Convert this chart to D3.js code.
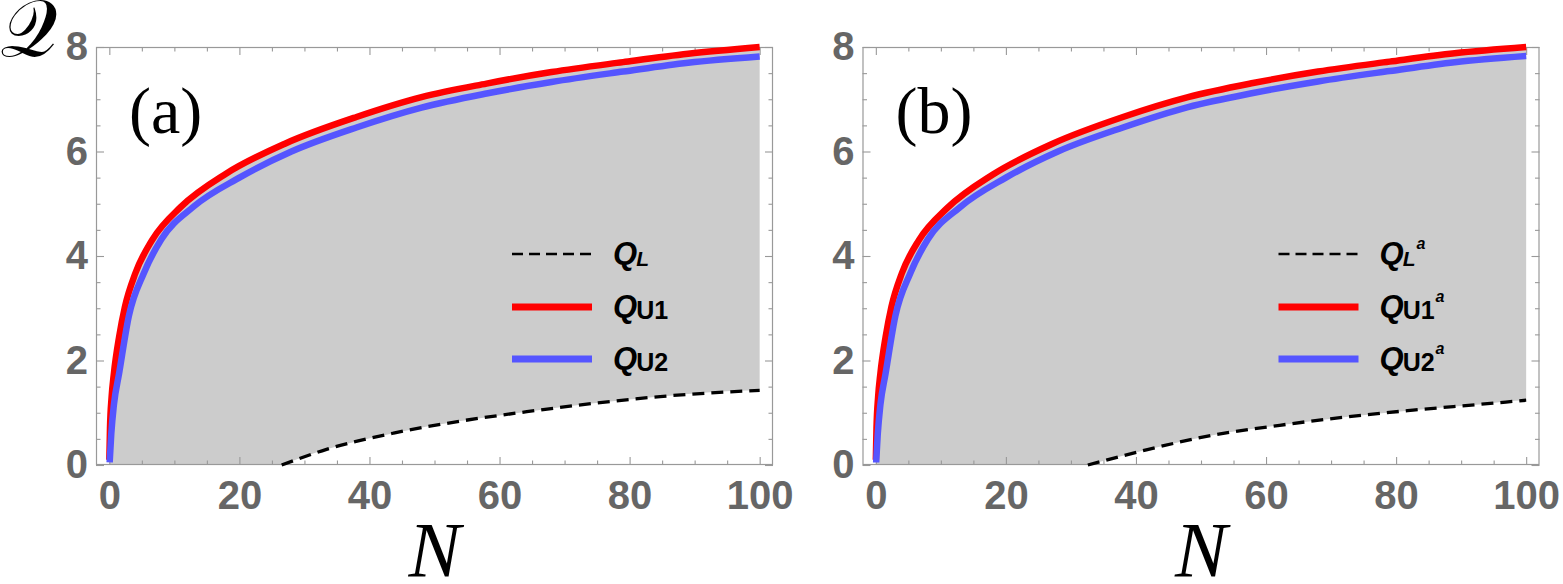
<!DOCTYPE html>
<html>
<head>
<meta charset="utf-8">
<script src="https://cdn.jsdelivr.net/npm/d3@7"></script>
<style>
  body { margin: 0; background: #fff; }
</style>
</head>
<body>
<div class="chart"></div>
<script>
// panel (a) values
var nU1a = [0, 0.1, 0.35, 0.7, 1.5, 2.4, 4, 6.6, 11, 18, 27, 38, 48, 58, 68, 79, 89, 100];
var qU1a = [0.1, 0.7, 1.3, 1.75, 2.45, 3.03, 3.67, 4.31, 4.94, 5.58, 6.15, 6.66, 7.04, 7.30, 7.52, 7.71, 7.87, 8.0];
var nU2a = [0.05, 0.3, 0.7, 1.5, 3, 5.3, 8, 12.9, 20, 28, 38, 48, 58, 68, 79, 89, 100];
var qU2a = [0.05, 0.6, 1.15, 1.75, 2.85, 3.67, 4.32, 4.94, 5.5, 6.0, 6.46, 6.84, 7.11, 7.33, 7.53, 7.70, 7.82];
var nLa = [26.5, 33.4, 43.7, 54, 64.2, 74.5, 84.7, 100];
var qLa = [0, 0.30, 0.61, 0.84, 1.02, 1.18, 1.31, 1.43];

// panel (b) values
var nU1b = [0, 0.1, 0.35, 0.7, 1.5, 2.4, 4, 6.6, 11, 18, 27, 38, 48, 58, 68, 79, 89, 100];
var qU1b = [0.1, 0.7, 1.3, 1.75, 2.45, 3.03, 3.67, 4.3, 4.92, 5.56, 6.14, 6.66, 7.04, 7.31, 7.53, 7.72, 7.88, 8.0];
var nU2b = [0.05, 0.3, 0.7, 1.5, 3, 5.3, 8, 12.9, 20, 28, 38, 48, 58, 68, 79, 89, 100];
var qU2b = [0.05, 0.6, 1.15, 1.75, 2.85, 3.67, 4.32, 4.93, 5.5, 6.0, 6.46, 6.85, 7.12, 7.34, 7.54, 7.71, 7.83];
var nLb = [32.6, 41.6, 51.8, 62.1, 72.3, 82.6, 92.8, 100];
var qLb = [0, 0.29, 0.57, 0.76, 0.92, 1.05, 1.16, 1.24];

var xTicks = [0, 20, 40, 60, 80, 100];
var yTicks = [0, 2, 4, 6, 8];

var w = 1563, h = 584;
var pw = 677, plotTop = 47, plotBottom = 465;

var svg = d3.select("div.chart")
            .append("svg")
            .attr("width", w)
            .attr("height", h);

function zip(xs, ys) {
    return xs.map(function(d, i) { return [d, ys[i]]; });
}

function panel(left, tag, U1, U2, L, sup) {
    var x = d3.scaleLinear().domain([-2.05, 102.05]).range([left, left + pw]);
    var y = d3.scaleLinear().domain([0, 8]).range([plotBottom, plotTop]);
    var g = svg.append("g");

    var line = d3.line()
        .x(function(d) { return x(d[0]); })
        .y(function(d) { return y(d[1]); })
        .curve(d3.curveMonotoneX);
    var area = d3.area()
        .x(function(d) { return x(d[0]); })
        .y0(y(0))
        .y1(function(d) { return y(d[1]); })
        .curve(d3.curveMonotoneX);

    // shaded band under the upper bound
    g.append("path")
        .datum(U1)
        .attr("d", area)
        .attr("fill", "#cccccc");
    // clear the region below the lower bound
    var areaL = d3.area()
        .x(function(d) { return x(d[0]); })
        .y0(y(0) + 1)
        .y1(function(d) { return y(d[1]); })
        .curve(d3.curveMonotoneX);
    g.append("path")
        .datum(L.concat([[100.3, L[L.length - 1][1]]]))
        .attr("d", areaL)
        .attr("fill", "#fff");

    // frame
    g.append("rect")
        .attr("x", left + 0.5).attr("y", plotTop + 0.5)
        .attr("width", pw - 1).attr("height", plotBottom - plotTop - 1)
        .attr("fill", "none")
        .attr("stroke", "#999")
        .attr("stroke-width", 1.2);

    var minorX = d3.range(0, 101, 5).filter(function(d) { return d % 20 !== 0; });
    var minorY = d3.range(0, 8.01, 0.5).filter(function(d) { return d % 2 !== 0; });

    function tickGroup(axis, tr) {
        var a = g.append("g").attr("transform", tr).call(axis);
        a.select(".domain").remove();
        a.selectAll("line").attr("stroke", "#999").attr("stroke-width", 1.1);
        return a;
    }

    // bottom / top ticks
    tickGroup(d3.axisBottom(x).tickValues(xTicks).tickSize(-8).tickFormat(""), "translate(0," + plotBottom + ")");
    tickGroup(d3.axisBottom(x).tickValues(minorX).tickSize(-4.5).tickFormat(""), "translate(0," + plotBottom + ")");
    tickGroup(d3.axisTop(x).tickValues(xTicks).tickSize(-8).tickFormat(""), "translate(0," + plotTop + ")");
    tickGroup(d3.axisTop(x).tickValues(minorX).tickSize(-4.5).tickFormat(""), "translate(0," + plotTop + ")");
    // left / right ticks
    tickGroup(d3.axisLeft(y).tickValues(yTicks).tickSize(-8).tickFormat(""), "translate(" + left + ",0)");
    tickGroup(d3.axisLeft(y).tickValues(minorY).tickSize(-4.5).tickFormat(""), "translate(" + left + ",0)");
    tickGroup(d3.axisRight(y).tickValues(yTicks).tickSize(-8).tickFormat(""), "translate(" + (left + pw) + ",0)");
    tickGroup(d3.axisRight(y).tickValues(minorY).tickSize(-4.5).tickFormat(""), "translate(" + (left + pw) + ",0)");

    // tick labels
    var xl = g.append("g").attr("transform", "translate(0," + plotBottom + ")")
        .call(d3.axisBottom(x).tickValues(xTicks).tickSize(0).tickPadding(16).tickFormat(d3.format("d")));
    var yl = g.append("g").attr("transform", "translate(" + left + ",0)")
        .call(d3.axisLeft(y).tickValues(yTicks).tickSize(0).tickPadding(8).tickFormat(d3.format("d")));
    [xl, yl].forEach(function(a) {
        a.select(".domain").remove();
        a.selectAll("text")
            .attr("font-family", "Liberation Sans, Arial, sans-serif")
            .attr("font-weight", "bold")
            .attr("font-size", "40px")
            .attr("fill", "#666");
    });

    // lower bound, dashed
    g.append("path")
        .datum(L)
        .attr("d", line)
        .attr("fill", "none")
        .attr("stroke", "#000")
        .attr("stroke-width", 3.3)
        .attr("stroke-dasharray", "12,7");
    g.append("path")
        .datum(U1)
        .attr("d", line)
        .attr("fill", "none")
        .attr("stroke", "#ff0000")
        .attr("stroke-width", 6.5);
    g.append("path")
        .datum(U2)
        .attr("d", line)
        .attr("fill", "none")
        .attr("stroke", "#5555ff")
        .attr("stroke-width", 6.5);

    // panel tag
    g.append("text")
        .attr("x", left + 33)
        .attr("y", 133)
        .attr("font-family", "Liberation Serif, Times New Roman, serif")
        .attr("font-size", "66px")
        .text(tag);

    // axis label N
    g.append("text")
        .attr("x", left + pw / 2)
        .attr("y", 576)
        .attr("text-anchor", "middle")
        .attr("font-family", "Liberation Serif, Times New Roman, serif")
        .attr("font-style", "italic")
        .attr("font-size", "78px")
        .text("N");

    // legend
    var lx = left + pw - 261;
    var items = [
        {sub: "L", italic: true, color: "#000", dash: "11,6", sw: 2.5, yy: 254},
        {sub: "U1", italic: false, color: "#ff0000", dash: null, sw: 7, yy: 307},
        {sub: "U2", italic: false, color: "#5555ff", dash: null, sw: 7, yy: 359}
    ];
    items.forEach(function(it) {
        g.append("line")
            .attr("x1", lx).attr("x2", lx + 80)
            .attr("y1", it.yy).attr("y2", it.yy)
            .attr("stroke", it.color)
            .attr("stroke-width", it.sw)
            .attr("stroke-dasharray", it.dash);
        var t = g.append("text")
            .attr("x", lx + 101)
            .attr("y", it.yy + 10)
            .attr("font-family", "Liberation Sans, Arial, sans-serif")
            .attr("font-weight", "bold");
        t.append("tspan")
            .attr("font-style", "italic")
            .attr("font-size", "31px")
            .text("Q");
        t.append("tspan")
            .attr("font-style", it.italic ? "italic" : "normal")
            .attr("font-size", it.italic ? "21px" : "25px")
            .attr("dx", -1)
            .attr("dy", 2)
            .text(it.sub);
        if (sup) {
            t.append("tspan")
                .attr("font-style", "italic")
                .attr("font-size", "16px")
                .attr("dx", 1)
                .attr("dy", -17)
                .text("a");
        }
    });
}

panel(96, "(a)", zip(nU1a, qU1a), zip(nU2a, qU2a), zip(nLa, qLa), false);
panel(862.5, "(b)", zip(nU1b, qU1b), zip(nU2b, qU2b), zip(nLb, qLb), true);

// script Q axis label
svg.append("text")
    .attr("x", 0)
    .attr("y", 56)
    .attr("font-family", "DejaVu Serif, serif")
    .attr("font-size", "80px")
    .text("\uD835\uDCAC");
</script>
</body>
</html>
